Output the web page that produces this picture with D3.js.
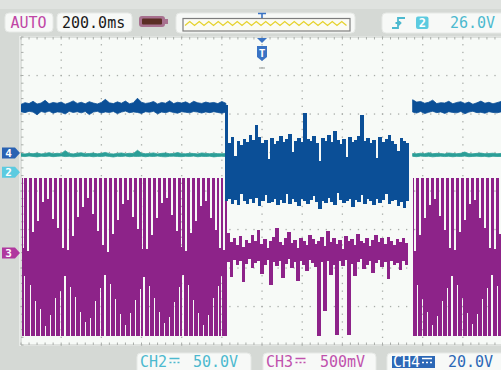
<!DOCTYPE html>
<html>
<head>
<meta charset="utf-8">
<script src="https://cdn.jsdelivr.net/npm/d3@7"></script>
<style>
  html, body { margin: 0; padding: 0; background: #d5d9d5; }
  svg { display: block; }
  text { font-family: "DejaVu Sans Mono", "Liberation Mono", monospace; }
</style>
</head>
<body>
<svg id="scope" width="501" height="370"></svg>
<script>
// ---- acquisition settings ----
const timePerDiv = 200;          // ms / div
const divisionsX = 12;
const timebaseLabel = "200.0ms";
const modeLabel = "AUTO";
const triggerChannel = "2";
const triggerLevelLabel = "26.0V";
const ch2Label = ["CH2", "50.0V"];
const ch3Label = ["CH3", "500mV"];
const ch4Label = ["CH4", "20.0V"];

// volts per division and ground-marker position (in divisions from centre)
const ch2Scale = [50, 0.49];
const ch3Scale = [0.5, -1.61];
const ch4Scale = [20, 0.99];

// ---- CH4: idle level before / after the burst gap (V), 20 ms samples ----
const ch4LeftStart = 0, ch4RightStart = 1950, flatStep = 20;
const ch4LeftMax = [25.2,26.1,25.6,26.8,25.4,25.9,27.3,25.5,26.2,25.8,26.4,25.3,26.0,27.0,25.7,26.3,25.5,26.6,25.9,25.4,26.2,27.8,26.0,25.6,26.5,25.8,26.9,25.5,26.1,28.4,26.3,25.7,26.0,26.7,25.4,26.2,25.8,27.1,25.6,26.3,25.9,26.5,25.5,26.8,26.0,25.7,26.4,25.9,26.2,25.6,26.7,25.8];
const ch4LeftMin = [21.4,20.9,21.6,21.2,19.8,21.5,21.0,21.7,20.6,21.3,21.1,20.2,21.6,21.0,21.4,20.8,21.5,19.9,21.2,21.6,20.7,21.3,21.0,21.5,20.4,21.2,21.7,20.9,21.3,21.0,20.5,21.4,21.1,21.6,20.3,21.2,20.9,21.5,21.0,20.6,21.4,21.1,20.8,21.5,21.2,20.7,21.3,20.9,21.4,21.0,20.6,21.2];
const ch4RightMax = [27.6,26.4,26.7,25.8,26.3,27.4,25.6,26.1,25.9,26.8,25.5,26.2,26.6,25.7,26.4,25.3,26.0,26.9,25.8,26.3,25.5,26.1,26.7,25.9];
const ch4RightMin = [21.2,20.7,21.5,20.4,21.1,21.6,20.9,21.3,20.5,21.4,21.0,20.8,21.5,20.3,21.2,21.6,20.9,21.1,20.6,21.4,21.0,20.8,21.3,21.1];

// ---- CH4: noisy section, 15 ms columns (V) ----
const ch4MidStart = 1015, midStep = 15;
const ch4MidMax = [25.0,5.2,8.1,-1.5,6.0,4.3,7.2,5.8,9.4,6.6,14.5,8.0,5.1,6.9,-3.0,7.7,4.8,6.3,8.6,5.5,7.0,9.8,0.5,6.1,7.9,5.4,20.8,7.3,6.0,8.8,4.9,-4.0,7.6,6.2,9.1,5.7,11.2,6.8,4.6,7.4,-2.0,8.3,5.9,6.7,8.9,19.6,6.4,7.8,5.0,6.9,-2.5,8.2,5.6,7.1,9.3,6.0,4.7,1.0,7.5,6.3,5.2];
const ch4MidMin = [-25.1,-23.8,-26.4,-24.5,-27.2,-21.5,-25.0,-26.8,-24.1,-25.9,-23.6,-27.5,-24.8,-22.0,-26.1,-25.3,-23.9,-27.0,-24.6,-25.8,-21.2,-26.3,-24.2,-25.5,-27.8,-23.7,-25.0,-26.6,-24.4,-22.4,-25.7,-29.4,-24.9,-26.0,-23.5,-25.4,-27.3,-21.0,-24.7,-26.2,-25.1,-23.9,-28.0,-24.6,-25.6,-22.1,-26.5,-24.0,-25.2,-27.1,-23.8,-25.9,-24.3,-21.6,-26.7,-25.0,-24.4,-27.6,-25.3,-28.6,-24.8];

// ---- CH2: supply line (V), 20 ms samples ----
const ch2LeftMax = [24.1,23.6,24.4,23.9,24.8,23.7,24.2,25.3,23.8,24.5,24.0,27.9,24.3,23.7,24.6,25.1,23.9,24.2,24.7,23.8,24.4,25.6,24.0,23.6,24.3,24.9,23.8,24.5,24.1,28.4,24.6,23.9,24.2,25.0,23.7,24.4,24.8,23.9,24.1,25.4,24.0,23.8,24.5,24.2,23.7,24.9,24.3,23.9,24.6,24.0,23.8,24.2];
const ch2LeftMin = [20.6,20.2,20.9,20.4,19.8,20.7,20.3,20.8,20.1,20.5,20.9,20.2,20.6,19.9,20.4,20.8,20.3,20.7,20.0,20.5,20.2,20.9,20.4,19.7,20.6,20.3,20.8,20.1,20.5,20.4,20.7,20.0,20.6,20.3,20.9,20.2,19.9,20.5,20.7,20.3,20.1,20.6,20.4,20.8,20.0,20.5,20.3,20.7,19.8,20.4,20.6,20.2];
const ch2RightMax = [24.2,23.8,24.6,24.0,25.2,23.9,24.4,24.1,23.7,24.8,24.3,23.9,24.5,26.1,24.0,23.8,24.4,24.7,23.9,24.2,24.6,23.8,24.3,24.0];
const ch2RightMin = [20.5,20.1,20.8,20.3,20.6,19.9,20.4,20.7,20.2,20.6,20.0,20.5,20.3,20.8,20.1,20.4,20.7,20.2,20.5,19.8,20.6,20.3,20.4,20.1];

// ---- CH3: modulated bursts (rails in V) with the envelope cut-outs [ms, V] ----
const ch3Bursts = [[5, 1025], [1950, 2400]];
const ch3BurstRails = [0.98, -1.08];
const ch3TopCuts = [
  [12,0.06],[35,0.02],[60,0.27],[85,0.41],[110,0.66],[135,0.70],[160,0.44],[185,0.33],[210,0.06],
  [234,0.04],[259,0.22],[284,0.47],[309,0.60],[334,0.72],[359,0.51],[384,0.28],[409,0.10],
  [433,0.01],[458,0.25],[483,0.43],[508,0.63],[533,0.69],[558,0.47],[583,0.31],[605,0.05],
  [627,0.05],[652,0.23],[677,0.46],[702,0.65],[727,0.71],[752,0.49],[777,0.29],[800,0.08],
  [822,0.03],[847,0.26],[872,0.42],[897,0.61],[922,0.68],[947,0.45],[972,0.30],[992,0.07],[1010,0.04],
  [1962,0.03],[1987,0.24],[2012,0.45],[2037,0.62],[2062,0.70],[2087,0.48],[2112,0.30],[2137,0.07],
  [2161,0.04],[2186,0.27],[2211,0.43],[2236,0.64],[2261,0.69],[2286,0.46],[2311,0.32],[2336,0.06],
  [2360,0.05],[2385,0.25]
];
const ch3BottomCuts = [
  [18,-0.30],[47,-0.41],[72,-0.62],[97,-0.73],[122,-0.95],[147,-0.81],[172,-0.58],[197,-0.49],[218,-0.30],
  [246,-0.44],[271,-0.57],[296,-0.77],[321,-0.90],[346,-0.84],[371,-0.63],[396,-0.45],[417,-0.29],
  [445,-0.40],[470,-0.60],[495,-0.79],[520,-0.93],[545,-0.78],[570,-0.61],[595,-0.47],[611,-0.31],
  [639,-0.43],[664,-0.58],[689,-0.76],[714,-0.91],[739,-0.83],[764,-0.64],[789,-0.44],[806,-0.28],
  [834,-0.42],[859,-0.61],[884,-0.78],[909,-0.94],[934,-0.80],[959,-0.59],[984,-0.43],[997,-0.30],[1014,-0.36],
  [1974,-0.42],[1999,-0.60],[2024,-0.77],[2049,-0.93],[2074,-0.82],[2099,-0.62],[2124,-0.46],[2145,-0.30],
  [2173,-0.41],[2198,-0.59],[2223,-0.78],[2248,-0.92],[2273,-0.79],[2298,-0.60],[2323,-0.45],[2344,-0.29],
  [2372,-0.43],[2397,-0.61]
];

// ---- CH3: quiet section between bursts, 15 ms columns (V) ----
const ch3MidStart = 1025;
const ch3MidMax = [0.26,0.14,0.19,0.11,0.22,0.08,0.17,0.13,0.24,0.15,0.30,0.12,0.18,0.06,0.16,0.21,0.33,0.14,0.10,0.19,0.27,0.13,0.17,0.07,0.20,0.15,0.11,0.23,0.18,0.12,0.16,0.21,0.09,0.28,0.14,0.19,0.12,0.17,0.05,0.22,0.15,0.18,0.11,0.25,0.16,0.13,0.20,0.09,0.17,0.23,0.14,0.19,0.12,0.21,0.16,0.10,0.18,0.14,0.20,0.13];
const ch3MidMin = [-0.12,-0.31,-0.09,-0.16,-0.11,-0.38,-0.14,-0.08,-0.20,-0.13,-0.10,-0.27,-0.15,-0.09,-0.42,-0.12,-0.17,-0.10,-0.33,-0.14,-0.08,-0.19,-0.12,-0.36,-0.11,-0.16,-0.24,-0.09,-0.13,-0.18,-1.08,-0.12,-0.75,-0.10,-0.28,-0.15,-1.07,-0.11,-0.17,-0.09,-1.06,-0.14,-0.30,-0.12,-0.08,-0.21,-0.15,-0.11,-0.26,-0.13,-0.09,-0.18,-0.12,-0.34,-0.10,-0.16,-0.13,-0.22,-0.11,-0.15];

// ---- colours ----
const C = {
  page: "#d5d9d5", screen: "#f7faf7", grid: "#a9ada9", box: "#f7f9f7",
  ch2: "#2b9e97", ch3: "#8d2389", ch4: "#0b4f97",
  ch2Text: "#4cb9cf", ch3Text: "#c052ad", ch4Text: "#2c68b6",
  mark2: "#5ccbe0", mark3: "#b0399f", mark4: "#2a62b2", trig: "#3a73c4"
};

// ---- layout & scales ----
const plot = { x0: 21, x1: 503, y0: 37, y1: 345 };
const svg = d3.select("#scope");
const x = d3.scaleLinear().domain([0, timePerDiv * divisionsX]).range([plot.x0, plot.x1]);
const yDiv = d3.scaleLinear().domain([-4, 4]).range([plot.y1, plot.y0]);
const yCh = s => v => yDiv(s[1] + v / s[0]);
const y2 = yCh(ch2Scale), y3 = yCh(ch3Scale), y4 = yCh(ch4Scale);

svg.append("rect").attr("width", 501).attr("height", 370).attr("fill", C.page);
svg.append("rect").attr("width", 501).attr("height", 9).attr("fill", "#dfe2df");

// screen
svg.append("rect").attr("x", plot.x0 - 1.5).attr("y", plot.y0 - 1)
  .attr("width", plot.x1 - plot.x0 + 3).attr("height", plot.y1 - plot.y0 + 2)
  .attr("fill", "#fbfdfb");
svg.append("rect").attr("x", plot.x0).attr("y", plot.y0)
  .attr("width", plot.x1 - plot.x0).attr("height", plot.y1 - plot.y0)
  .attr("fill", C.screen).attr("stroke", "#c4c8c4").attr("stroke-width", 1);

// graticule: dotted division lines with 1/5-division dots, ticks on the frame
const grid = svg.append("g").attr("fill", C.grid);
const minorY = d3.range(-20, 21).map(j => j / 5);
const minorT = d3.range(0, divisionsX * 5 + 1).map(k => k * timePerDiv / 5);
d3.range(1, divisionsX).forEach(k => {
  grid.selectAll(null).data(minorY).join("rect")
    .attr("x", x(k * timePerDiv) - 0.6).attr("y", d => yDiv(d) - 0.6)
    .attr("width", 1.3).attr("height", 1.3);
});
d3.range(-3, 4).forEach(j => {
  grid.selectAll(null).data(minorT).join("rect")
    .attr("x", d => x(d) - 0.6).attr("y", yDiv(j) - 0.6)
    .attr("width", 1.3).attr("height", 1.3);
});
const ticks = svg.append("g").attr("stroke", C.grid).attr("stroke-width", 1);
ticks.selectAll(null).data(minorT).join("line")
  .attr("x1", d => x(d)).attr("x2", d => x(d)).attr("y1", plot.y0).attr("y2", plot.y0 + 2.5);
ticks.selectAll(null).data(minorT).join("line")
  .attr("x1", d => x(d)).attr("x2", d => x(d)).attr("y1", plot.y1 - 2.5).attr("y2", plot.y1);
ticks.selectAll(null).data(minorY).join("line")
  .attr("x1", plot.x0).attr("x2", plot.x0 + 2.5).attr("y1", d => yDiv(d)).attr("y2", d => yDiv(d));

// traces
svg.append("clipPath").attr("id", "scr").append("rect")
  .attr("x", plot.x0).attr("y", plot.y0).attr("width", plot.x1 - plot.x0).attr("height", plot.y1 - plot.y0);
const traces = svg.append("g").attr("clip-path", "url(#scr)");

function columns(start, step, maxArr, minArr) {
  return maxArr.map((v, i) => ({ t0: start + i * step, t1: start + (i + 1) * step, hi: v, lo: minArr[i] }));
}
function drawColumns(cols, yScale, color) {
  traces.append("g").attr("fill", color).attr("shape-rendering", "crispEdges")
    .selectAll("rect").data(cols).join("rect")
    .attr("x", d => x(d.t0)).attr("width", d => x(d.t1) - x(d.t0) + 0.5)
    .attr("y", d => yScale(d.hi)).attr("height", d => Math.max(1, yScale(d.lo) - yScale(d.hi)));
}
function drawBand(start, step, maxArr, minArr, yScale, color) {
  const pts = maxArr.map((v, i) => ({ t: start + i * step, hi: v, lo: minArr[i] }));
  traces.append("path").datum(pts).attr("fill", color).attr("stroke", color).attr("stroke-width", 0.8)
    .attr("d", d3.area().x(d => x(d.t)).y0(d => yScale(d.lo)).y1(d => yScale(d.hi)));
}
const CUT_MS = 8;
function burstColumns(span, rails) {
  const cuts = ch3TopCuts.map(d => ({ t: d[0], hi: d[1], lo: rails[1] }))
    .concat(ch3BottomCuts.map(d => ({ t: d[0], hi: rails[0], lo: d[1] })))
    .filter(c => c.t > span[0] && c.t < span[1])
    .sort((a, b) => a.t - b.t);
  const cols = [];
  let cur = span[0];
  cuts.forEach(c => {
    const a = c.t - CUT_MS / 2, b = c.t + CUT_MS / 2;
    if (a > cur) cols.push({ t0: cur, t1: a, hi: rails[0], lo: rails[1] });
    cols.push({ t0: Math.max(a, cur), t1: b, hi: c.hi, lo: c.lo });
    cur = b;
  });
  if (cur < span[1]) cols.push({ t0: cur, t1: span[1], hi: rails[0], lo: rails[1] });
  return cols;
}

// CH3
ch3Bursts.forEach(span => {
  const cols = burstColumns(span, ch3BurstRails);
  traces.append("g").attr("fill", C.ch3).attr("shape-rendering", "crispEdges")
    .selectAll("rect").data(cols).join("rect")
    .attr("x", d => x(d.t0)).attr("width", d => x(d.t1) - x(d.t0))
    .attr("y", d => y3(d.hi)).attr("height", d => y3(d.lo) - y3(d.hi));
});
drawColumns(columns(ch3MidStart, midStep, ch3MidMax, ch3MidMin), y3, C.ch3);

// CH2
drawBand(ch4LeftStart, flatStep, ch2LeftMax, ch2LeftMin, y2, C.ch2);
drawBand(ch4RightStart, flatStep, ch2RightMax, ch2RightMin, y2, C.ch2);

// CH4
drawBand(ch4LeftStart, flatStep, ch4LeftMax, ch4LeftMin, y4, C.ch4);
drawBand(ch4RightStart, flatStep, ch4RightMax, ch4RightMin, y4, C.ch4);
drawColumns(columns(ch4MidStart, midStep, ch4MidMax, ch4MidMin), y4, C.ch4);

// ground markers on the left edge
function marker(yPos, label, color) {
  const g = svg.append("g");
  g.append("path").attr("fill", color)
    .attr("d", `M2,${yPos - 5.5} H15 L20,${yPos} L15,${yPos + 5.5} H2 Z`);
  g.append("text").attr("x", 8.5).attr("y", yPos + 4).attr("text-anchor", "middle")
    .attr("fill", "#fff").attr("font-size", 11).attr("font-weight", "bold").text(label);
}
marker(y4(0), "4", C.mark4);
marker(y2(0), "2", C.mark2);
marker(y3(0), "3", C.mark3);

// trigger position marker
const tx = x(timePerDiv * divisionsX / 2);
svg.append("path").attr("fill", C.trig)
  .attr("d", `M${tx - 5},${plot.y0 + 1} H${tx + 5} L${tx},${plot.y0 + 6} Z`);
svg.append("path").attr("fill", C.trig)
  .attr("d", `M${tx - 5},${plot.y0 + 9} H${tx + 5} V${plot.y0 + 20} L${tx},${plot.y0 + 24} L${tx - 5},${plot.y0 + 20} Z`);
svg.append("text").attr("x", tx).attr("y", plot.y0 + 19.5).attr("text-anchor", "middle")
  .attr("fill", "#fff").attr("font-size", 11).attr("font-weight", "bold").text("T");
svg.append("line").attr("x1", tx - 3).attr("x2", tx + 3).attr("y1", 68).attr("y2", 68)
  .attr("stroke", "#9a9e9a").attr("stroke-width", 1);

// ---- status bar ----
function box(x0, y0, w, h) {
  svg.append("rect").attr("x", x0).attr("y", y0).attr("width", w).attr("height", h)
    .attr("rx", 4).attr("fill", C.box).attr("stroke", "#e6e9e6");
}
function label(xp, yp, str, color, size) {
  return svg.append("text").attr("x", xp).attr("y", yp).attr("fill", color)
    .attr("font-size", size || 15).text(str);
}
box(5, 13, 48, 19);
label(10.5, 27.5, modeLabel, "#c046a5");
box(57, 13, 75, 19);
label(62, 27.5, timebaseLabel, "#1a1a1a");

// battery
svg.append("rect").attr("x", 139).attr("y", 16).attr("width", 26).attr("height", 11).attr("rx", 3).attr("fill", "#a8718f");
svg.append("rect").attr("x", 164).attr("y", 19).attr("width", 4).attr("height", 5).attr("fill", "#a8718f");
svg.append("rect").attr("x", 142).attr("y", 18.5).attr("width", 20).attr("height", 6).attr("rx", 1).attr("fill", "#5b2e25");

// memory strip with waveform
box(176, 13, 179, 20);
svg.append("rect").attr("x", 183).attr("y", 18.5).attr("width", 167).attr("height", 12.5)
  .attr("fill", "#fbfbf4").attr("stroke", "#7d7d7d").attr("stroke-width", 1.2);
const zig = d3.range(185, 349, 4.75).map((px, i) => [px, i % 2 ? 21.5 : 25.5]);
svg.append("path").attr("d", d3.line()(zig)).attr("fill", "none")
  .attr("stroke", "#e6d22e").attr("stroke-width", 1.3);
svg.append("path").attr("d", `M${tx - 4},13.5 H${tx + 4} M${tx},13.5 V18`)
  .attr("stroke", C.trig).attr("stroke-width", 1.6).attr("fill", "none");

// trigger settings
box(382, 13, 125, 20);
svg.append("path").attr("d", "M392,28 H398 V18 H405 M395.5,23 H400.5 M398,20.5 L400.5,23 L398,25.5")
  .attr("fill", "none").attr("stroke", C.ch2Text).attr("stroke-width", 1.8);
svg.append("rect").attr("x", 416).attr("y", 16.5).attr("width", 12.5).attr("height", 12.5).attr("rx", 2).attr("fill", C.mark2);
svg.append("text").attr("x", 422.3).attr("y", 27).attr("text-anchor", "middle").attr("fill", "#fff")
  .attr("font-size", 12).attr("font-weight", "bold").text(triggerChannel);
label(450, 27.5, triggerLevelLabel, C.ch2Text);

// ---- channel settings ----
function dcSymbol(x0, color) {
  svg.append("line").attr("x1", x0).attr("x2", x0 + 10).attr("y1", 358.5).attr("y2", 358.5)
    .attr("stroke", color).attr("stroke-width", 1.5);
  svg.append("line").attr("x1", x0).attr("x2", x0 + 10).attr("y1", 362.5).attr("y2", 362.5)
    .attr("stroke", color).attr("stroke-width", 1.5).attr("stroke-dasharray", "2,2");
}
box(137, 353, 114, 22);
label(140, 366.5, ch2Label[0], C.ch2Text);
dcSymbol(169.5, C.ch2Text);
label(193, 366.5, ch2Label[1], C.ch2Text);

box(263, 353, 113, 22);
label(266, 366.5, ch3Label[0], C.ch3Text);
dcSymbol(295.5, C.ch3Text);
label(320, 366.5, ch3Label[1], C.ch3Text);

box(387, 353, 120, 22);
svg.append("rect").attr("x", 392).attr("y", 356).attr("width", 43).attr("height", 12).attr("fill", C.ch4Text);
label(393, 366.5, ch4Label[0], "#ffffff");
dcSymbol(422, "#ffffff");
label(448, 366.5, ch4Label[1], C.ch4Text);
</script>
</body>
</html>
